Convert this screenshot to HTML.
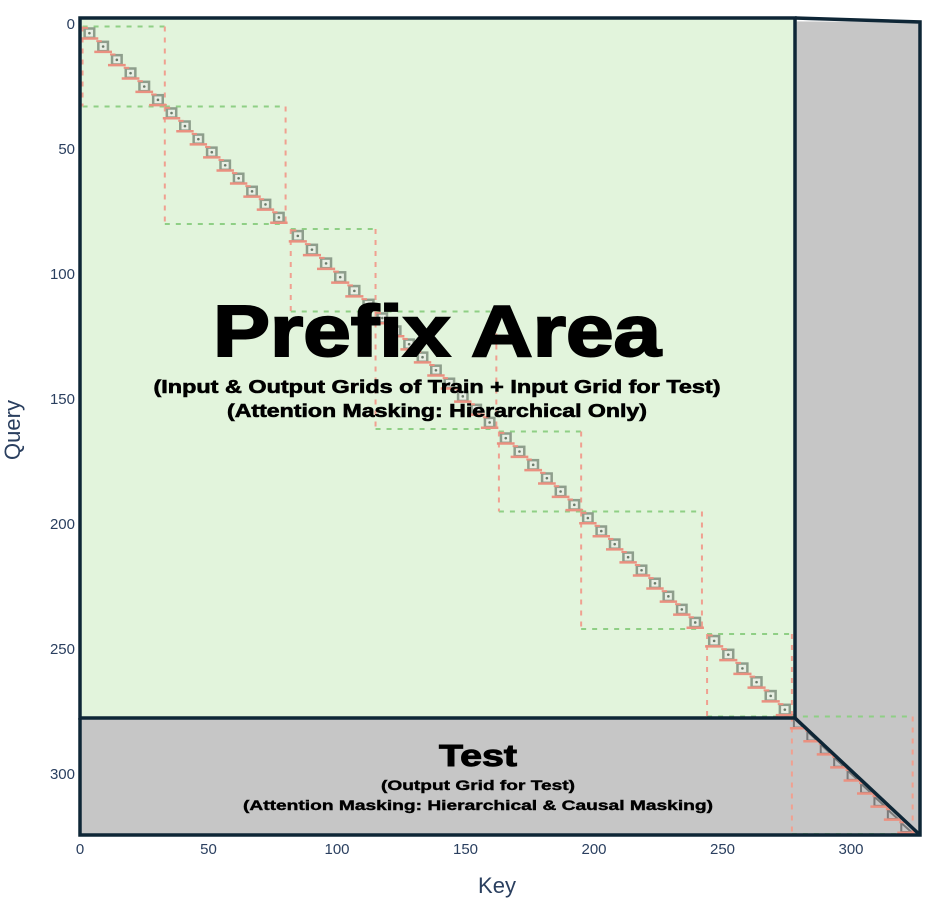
<!DOCTYPE html>
<html><head><meta charset="utf-8"><style>
body{margin:0;background:#fff;}
svg text{font-family:"Liberation Sans",sans-serif;}
</style></head><body>
<svg id="c" width="947" height="911" xmlns="http://www.w3.org/2000/svg">
<g id="bg">
<polygon points="80,18 920,22 920,835 80,835" fill="#c6c6c6"/>
<rect x="80" y="18" width="715" height="700" fill="#e2f4dc"/>
</g>
<g id="marks"></g>
<g fill="none" stroke="#0e2636" stroke-width="3.5">
<rect x="80" y="18" width="715" height="700"/>
<polyline points="795,18 920,22 920,835 80,835 80,718"/>
<line x1="795" y1="718" x2="920" y2="835"/>
</g>
<g text-anchor="middle" font-weight="bold" fill="#000" stroke="#000">
<text x="437" y="356" font-size="72" stroke-width="2" textLength="448" lengthAdjust="spacingAndGlyphs">Prefix Area</text>
<text x="437" y="393" font-size="18" stroke-width="0.6" textLength="567" lengthAdjust="spacingAndGlyphs">(Input &amp; Output Grids of Train + Input Grid for Test)</text>
<text x="437" y="417" font-size="18" stroke-width="0.6" textLength="420" lengthAdjust="spacingAndGlyphs">(Attention Masking: Hierarchical Only)</text>
<text x="478" y="766" font-size="31" stroke-width="1" textLength="78" lengthAdjust="spacingAndGlyphs">Test</text>
<text x="478" y="790" font-size="14" stroke-width="0.4" textLength="194" lengthAdjust="spacingAndGlyphs">(Output Grid for Test)</text>
<text x="478" y="810" font-size="14" stroke-width="0.4" textLength="470" lengthAdjust="spacingAndGlyphs">(Attention Masking: Hierarchical &amp; Causal Masking)</text>
</g>
<g id="axes" fill="#2a3f5f"></g>
<text x="497" y="893" font-size="22" fill="#2a3f5f" text-anchor="middle">Key</text>
<text transform="translate(20,430) rotate(-90)" font-size="22" fill="#2a3f5f" text-anchor="middle">Query</text>
</svg>
<script>
const blockStart=[1,33,82,115,163,195,244,277];
const blockEnd=[33,80,115,162,195,242,277,324];
const blockRows=[6,9,6,9,6,9,6,9];
const xTicks=[0,50,100,150,200,250,300];
const yTicks=[0,50,100,150,200,250,300];
const NS="http://www.w3.org/2000/svg";
const X=v=>80+v*2.57, Y=v=>24+v*2.5;
const marks=document.getElementById('marks'), axes=document.getElementById('axes');
function mk(t,a,p){const e=document.createElementNS(NS,t);for(const k in a)e.setAttribute(k,a[k]);p.appendChild(e);return e;}
blockStart.forEach((s,i)=>{
  const e=blockEnd[i],n=blockRows[i];
  const g=mk('g',{},marks);
  
  
  const d={fill:'none','stroke-width':2,'stroke-dasharray':'5,6'};
  mk('line',Object.assign({x1:X(s),y1:Y(s),x2:X(e),y2:Y(s),stroke:'#8fcf85'},d),g);
  mk('line',Object.assign({x1:X(s),y1:Y(e),x2:X(e),y2:Y(e),stroke:'#8fcf85'},d),g);
  mk('line',Object.assign({x1:X(s),y1:Y(s),x2:X(s),y2:Y(e),stroke:'#f0a090'},d),g);
  mk('line',Object.assign({x1:X(e),y1:Y(s),x2:X(e),y2:Y(e),stroke:'#f0a090'},d),g);
  const c=(e-s)/n;
  for(let k=0;k<n;k++){
    const a=s+k*c, x0=X(a), y0=Y(a), w=X(a+c)-x0, h=Y(a+c)-y0;
    const cg=mk('g',{},g);
    
    
    if(i<7){
      mk('rect',{x:x0+w*0.15,y:y0+h*0.15,width:w*0.7,height:h*0.7,fill:'#e8efe4',stroke:'#8e9e8c','stroke-width':2.5},cg);
      mk('circle',{cx:x0+w/2,cy:y0+h/2,r:1.3,fill:'#6a7a6a'},cg);
    } else {
      mk('polygon',{points:`${x0+w*0.15},${y0+h*0.15} ${x0+w*0.15},${y0+h*0.85} ${x0+w*0.9},${y0+h*0.85}`,fill:'none',stroke:'#7a7a7a','stroke-width':2},cg);
    }
    mk('line',{x1:x0-2,y1:y0+h*0.9,x2:x0+w+2,y2:y0+h*0.9,stroke:'#ea9080','stroke-width':2.5},cg);
    mk('line',{x1:x0,y1:y0+h*0.1,x2:x0+w*0.4,y2:y0+h*0.1,stroke:'#ea9080','stroke-width':2},cg);
  }
});
xTicks.forEach(v=>{const t=mk('text',{x:X(v),y:854,'font-size':15,'text-anchor':'middle'},axes);t.textContent=v;
});
yTicks.forEach(v=>{const t=mk('text',{x:75,y:Y(v)+5,'font-size':15,'text-anchor':'end'},axes);t.textContent=v;
});
</script>
</body></html>
